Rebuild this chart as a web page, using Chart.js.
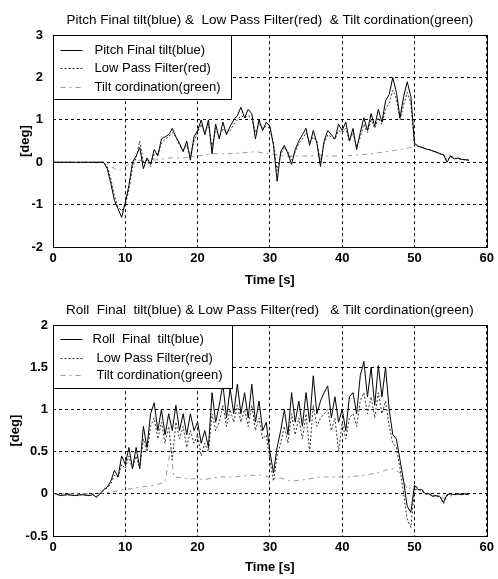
<!DOCTYPE html>
<html>
<head>
<meta charset="utf-8">
<script src="https://cdn.jsdelivr.net/npm/chart.js@4.4.1/dist/chart.umd.min.js"></script>
<style>
  html, body { margin: 0; padding: 0; background: #fff; }
  .plot { position: absolute; left: 0; width: 498px; }
</style>
</head>
<body>
<div class="plot" style="top:0;height:290px"><canvas id="pitchChart" width="498" height="290"></canvas></div>
<div class="plot" style="top:290px;height:289px"><canvas id="rollChart" width="498" height="289"></canvas></div>
<script>
// ---- data (time in s, angle in deg) ----
const pitchTime = [0, 3, 6,
  7, 7.5, 8, 8.5, 9, 9.5, 10, 10.5, 11, 11.5,
  12, 12.5, 13, 13.5, 14, 14.5, 15, 15.5, 16, 16.5,
  17, 17.5, 18, 18.5, 19, 19.5, 20, 20.5, 21, 21.5,
  22, 22.5, 23, 23.5, 24, 24.5, 25, 25.5, 26, 26.5,
  27, 27.5, 28, 28.5, 29, 29.5, 30, 30.5, 31, 31.5,
  32, 32.5, 33, 33.5, 34, 34.5, 35, 35.5, 36, 36.5,
  37, 37.5, 38, 38.5, 39, 39.5, 40, 40.5, 41, 41.5,
  42, 42.5, 43, 43.5, 44, 44.5, 45, 45.5, 46, 46.5,
  47, 47.5, 48, 48.5, 49, 49.5, 50, 50.5, 51, 51.5,
  52, 52.5, 53, 53.5, 54, 54.5, 55, 55.5, 56, 56.5,
  57, 57.5];
const pitchFinal = [0, 0, 0,
  0, -0.15, -0.5, -0.9, -1.1, -1.3, -0.95, -0.55, 0.0, 0.15,
  0.35, -0.15, 0.1, -0.05, 0.3, 0.15, 0.55, 0.6, 0.65, 0.8,
  0.6, 0.45, 0.25, 0.5, 0.05, 0.6, 0.75, 1.0, 0.65, 1.0,
  0.2, 0.9, 0.55, 0.95, 0.65, 0.85, 1.0, 1.1, 1.3, 1.05,
  1.25, 1.15, 0.55, 1.0, 0.75, 0.95, 0.85, 0.4, -0.45, 0.25,
  0.4, 0.2, -0.05, 0.3, 0.5, 0.65, 0.8, 0.4, 0.75, 0.45,
  -0.1, 0.5, 0.75, 0.65, 0.55, 0.9, 0.75, 0.95, 0.5, 0.8,
  0.3, 0.7, 1.05, 0.75, 1.15, 0.85, 1.25, 0.95, 1.45, 1.6,
  2.0, 1.65, 1.05, 1.55, 1.9, 1.55, 0.45, 0.38, 0.35, 0.32,
  0.3, 0.27, 0.24, 0.2, 0.18, 0.0, 0.15, 0.08, 0.1, 0.07,
  0.06, 0.05];
const pitchLowPass = [0, 0, 0,
  0, -0.1, -0.4, -0.8, -1.05, -1.15, -1.0, -0.65, -0.1, 0.1,
  0.5, 0.0, 0.05, -0.1, 0.2, 0.2, 0.45, 0.55, 0.6, 0.7,
  0.6, 0.4, 0.3, 0.4, 0.15, 0.5, 0.7, 0.9, 0.7, 0.9,
  0.35, 0.8, 0.6, 0.8, 0.7, 0.75, 0.9, 1.0, 1.1, 1.05,
  1.1, 1.05, 0.7, 0.9, 0.8, 0.85, 0.8, 0.45, -0.2, 0.2,
  0.35, 0.25, 0.05, 0.25, 0.45, 0.55, 0.7, 0.45, 0.6, 0.5,
  0.0, 0.45, 0.65, 0.6, 0.55, 0.75, 0.7, 0.8, 0.5, 0.7,
  0.35, 0.6, 0.9, 0.7, 1.0, 0.8, 1.05, 0.9, 1.25, 1.4,
  1.7, 1.5, 1.0, 1.35, 1.65, 1.4, 0.42, 0.38, 0.35, 0.32,
  0.3, 0.27, 0.24, 0.21, 0.17, 0.05, 0.12, 0.1, 0.08, 0.07,
  0.06, 0.05];
const pitchTiltTime = [0, 7, 8, 9, 10, 11, 12, 14, 16, 18, 20, 22, 24, 26, 28, 30,
  32, 34, 36, 38, 40, 42, 44, 46, 48, 49.5, 50, 52, 54, 56, 57.5];
const pitchTilt = [0, 0, -0.1, -0.2, -0.1, 0, 0.05, 0.05, 0.1, 0.1, 0.15, 0.2, 0.2, 0.22, 0.25, 0.2,
  0.15, 0.15, 0.15, 0.15, 0.15, 0.17, 0.2, 0.25, 0.3, 0.35, 0.42, 0.3, 0.18, 0.1, 0.05];

const rollTime = [0, 1, 2, 3, 4, 5, 5.5,
  6, 6.5, 7, 7.5, 8, 8.5, 9, 9.5, 10, 10.5,
  11, 11.5, 12, 12.5, 13, 13.5, 14, 14.5, 15, 15.5,
  16, 16.5, 17, 17.5, 18, 18.5, 19, 19.5, 20, 20.5,
  21, 21.5, 22, 22.5, 23, 23.5, 24, 24.5, 25, 25.5,
  26, 26.5, 27, 27.5, 28, 28.5, 29, 29.5, 30, 30.5,
  31, 31.5, 32, 32.5, 33, 33.5, 34, 34.5, 35, 35.5,
  36, 36.5, 37, 37.5, 38, 38.5, 39, 39.5, 40, 40.5,
  41, 41.5, 42, 42.5, 43, 43.5, 44, 44.5, 45, 45.5,
  46, 46.5, 47, 47.5, 48, 48.5, 49, 49.5, 50, 50.5,
  51, 51.5, 52, 52.5, 53, 53.5, 54, 54.5, 55, 55.5,
  56, 56.5, 57, 57.5];
const rollFinal = [0.01, -0.02, -0.01, -0.02, -0.01, -0.02, -0.01,
  -0.04, 0.0, 0.05, 0.08, 0.15, 0.28, 0.2, 0.45, 0.35, 0.55,
  0.3, 0.55, 0.3, 0.8, 0.55, 0.95, 1.08, 0.75, 1.0, 0.7,
  0.95, 0.75, 1.05, 0.75, 0.95, 0.7, 0.95, 0.75, 0.85, 0.6,
  0.75, 0.55, 1.2, 0.85, 1.05, 1.3, 0.9, 1.25, 0.95, 1.3,
  0.95, 1.2, 0.9, 1.3, 0.85, 1.1, 0.75, 0.85, 0.5, 0.25,
  0.55, 0.75, 1.0, 0.7, 1.2, 0.85, 1.1, 0.8, 1.2, 0.85,
  1.4, 0.95, 1.1, 1.2, 1.28, 0.9, 1.15, 0.85, 1.0, 0.75,
  1.15, 1.2, 0.95, 1.4, 1.57, 1.15, 1.5, 1.05, 1.52, 1.15,
  1.5, 1.0, 0.7, 0.65, 0.4, 0.15, -0.15, -0.22, 0.1, 0.05,
  0.05, 0.0, 0.0, -0.03, -0.02, -0.03, -0.1, -0.01, 0.0, -0.01,
  0.0, -0.01, 0.0, -0.01];
const rollLowPass = [0.01, -0.02, -0.01, -0.02, -0.01, -0.02, -0.01,
  -0.03, 0.0, 0.04, 0.07, 0.12, 0.22, 0.2, 0.35, 0.3, 0.45,
  0.3, 0.45, 0.3, 0.65, 0.5, 0.8, 0.9, 0.65, 0.85, 0.6,
  0.8, 0.4, 0.85, 0.65, 0.8, 0.55, 0.75, 0.6, 0.7, 0.45,
  0.6, 0.5, 0.95, 0.75, 0.85, 1.05, 0.8, 1.0, 0.85, 1.05,
  0.85, 1.0, 0.8, 1.05, 0.75, 0.9, 0.65, 0.7, 0.4, 0.15,
  0.45, 0.6, 0.8, 0.6, 0.95, 0.7, 0.9, 0.65, 0.95, 0.5,
  1.05, 0.8, 0.9, 0.95, 1.0, 0.75, 0.9, 0.5, 0.85, 0.65,
  0.9, 0.95, 0.8, 1.1, 1.2, 0.95, 1.15, 0.9, 1.2, 0.95,
  1.1, 0.8, 0.6, 0.55, 0.3, 0.0, -0.3, -0.4, 0.05, 0.05,
  0.04, 0.0, 0.0, -0.02, -0.03, -0.03, -0.12, -0.02, 0.0, -0.01,
  0.0, -0.01, 0.0, -0.01];
const rollTiltTime = [0, 6, 8, 10, 12, 14, 15.5, 16.3, 16.7, 19, 21, 23, 25, 27, 29, 30.5, 31,
  33, 35, 37, 39, 41, 43, 45, 46, 47, 48, 49, 50, 52, 54, 56, 57.5];
const rollTilt = [0, 0, 0.02, 0.05, 0.08, 0.1, 0.14, 0.55, 0.2, 0.18, 0.17, 0.2, 0.2, 0.22, 0.22, 0.18, 0.2,
  0.15, 0.17, 0.2, 0.2, 0.2, 0.22, 0.25, 0.28, 0.3, 0.25, 0.05, 0.1, 0.0, -0.05, 0.0, 0.0];

const xTicks = [0, 10, 20, 30, 40, 50, 60];

const fontFamily = "'Liberation Sans Narrow', 'Liberation Sans', Arial, sans-serif";
Chart.defaults.font.family = fontFamily;
Chart.defaults.color = '#000';

const toPoints = (xs, ys) => xs.map((x, i) => ({ x: x, y: ys[i] }));

// box round the axes + legend inside the top-left corner
const frameLegend = {
  id: 'frameLegend',
  afterDatasetsDraw(chart, args, opts) {
    const { ctx, chartArea: a } = chart;
    ctx.save();
    ctx.setLineDash([]);
    ctx.strokeStyle = '#000';
    ctx.lineWidth = 1;
    ctx.strokeRect(Math.round(a.left) + 0.5, Math.round(a.top) + 0.5,
      Math.round(a.right - a.left), Math.round(a.bottom - a.top));

    const x0 = Math.round(a.left) + 0.5, y0 = Math.round(a.top) + 0.5;
    ctx.fillStyle = '#fff';
    ctx.fillRect(x0, y0, opts.width, opts.height);
    ctx.strokeRect(x0, y0, opts.width, opts.height);
    ctx.font = opts.font;
    ctx.textBaseline = 'middle';
    chart.data.datasets.forEach((ds, i) => {
      const y = y0 + opts.rows[i];
      ctx.strokeStyle = ds.borderColor;
      ctx.lineWidth = 1;
      ctx.setLineDash(ds.borderDash || []);
      ctx.beginPath();
      ctx.moveTo(x0 + opts.sample[0], y);
      ctx.lineTo(x0 + opts.sample[1], y);
      ctx.stroke();
      ctx.setLineDash([]);
      ctx.fillStyle = '#000';
      ctx.fillText(ds.label, x0 + opts.textX[i], y);
    });
    ctx.restore();
  }
};

function makeChart(id, cfg) {
  return new Chart(document.getElementById(id), {
    type: 'line',
    data: {
      datasets: [
        { label: cfg.labels[0], data: toPoints(cfg.time, cfg.final),
          borderColor: '#000', borderWidth: 1, pointRadius: 0, tension: 0 },
        { label: cfg.labels[1], data: toPoints(cfg.time, cfg.lowPass),
          borderColor: '#333', borderWidth: 1, borderDash: [2, 2], pointRadius: 0, tension: 0 },
        { label: cfg.labels[2], data: toPoints(cfg.tiltTime, cfg.tilt),
          borderColor: '#999', borderWidth: 1, borderDash: [5, 4, 2, 4], pointRadius: 0, tension: 0 }
      ]
    },
    options: {
      responsive: false,
      animation: false,
      layout: { padding: { left: 0, right: 8, top: 0, bottom: 0 } },
      plugins: {
        legend: { display: false },
        tooltip: { enabled: false },
        title: {
          display: true, text: cfg.title, fullSize: false,
          font: { size: 13.5, weight: 'normal' }, color: '#000',
          padding: { top: 12, bottom: 7 }
        },
        frameLegend: cfg.legend
      },
      scales: {
        x: {
          type: 'linear', min: 0, max: 60,
          afterBuildTicks: s => { s.ticks = xTicks.map(v => ({ value: v })); },
          afterFit: s => { s.height = cfg.xHeight; },
          ticks: { font: { size: 13, weight: 'bold' }, padding: 4, maxRotation: 0 },
          grid: { color: '#000', drawTicks: false },
          border: { display: false, dash: [3, 3] },
          title: { display: true, text: 'Time [s]', font: { size: 13, weight: 'bold' },
            padding: { top: 0, bottom: cfg.xTitlePad } }
        },
        y: {
          min: cfg.yMin, max: cfg.yMax,
          afterBuildTicks: s => { s.ticks = cfg.yTicks.map(v => ({ value: v })); },
          afterFit: s => { s.width = 53; },
          ticks: { font: { size: 13, weight: 'bold' }, padding: cfg.yTickPad,
            callback: v => String(v) },
          grid: { color: '#000', drawTicks: false },
          border: { display: false, dash: [3, 3] },
          title: { display: true, text: '[deg]', font: { size: 13, weight: 'bold' },
            padding: { top: cfg.yTitlePad, bottom: 0 } }
        }
      }
    },
    plugins: [frameLegend]
  });
}

makeChart('pitchChart', {
  title: 'Pitch Final tilt(blue) &  Low Pass Filter(red)  & Tilt cordination(green)',
  labels: ['Pitch Final tilt(blue)', 'Low Pass Filter(red)', 'Tilt cordination(green)'],
  time: pitchTime, final: pitchFinal, lowPass: pitchLowPass,
  tiltTime: pitchTiltTime, tilt: pitchTilt,
  yMin: -2, yMax: 3, yTicks: [-2, -1, 0, 1, 2, 3],
  xHeight: 43, xTitlePad: 2, yTickPad: 10, yTitlePad: 18,
  legend: { width: 178, height: 64, rows: [15, 33, 52], sample: [7, 29], textX: [41, 41, 41],
    font: "13px " + fontFamily }
});

makeChart('rollChart', {
  title: 'Roll  Final  tilt(blue) & Low Pass Filter(red)   & Tilt cordination(green)',
  labels: ['Roll  Final  tilt(blue)', 'Low Pass Filter(red)', 'Tilt cordination(green)'],
  time: rollTime, final: rollFinal, lowPass: rollLowPass,
  tiltTime: rollTiltTime, tilt: rollTilt,
  yMin: -0.5, yMax: 2, yTicks: [-0.5, 0, 0.5, 1, 1.5, 2],
  xHeight: 43, xTitlePad: 4, yTickPad: 5, yTitlePad: 8,
  legend: { width: 179, height: 63, rows: [14, 33, 50], sample: [7, 29], textX: [39, 43, 43],
    font: "13px " + fontFamily }
});
</script>
</body>
</html>
